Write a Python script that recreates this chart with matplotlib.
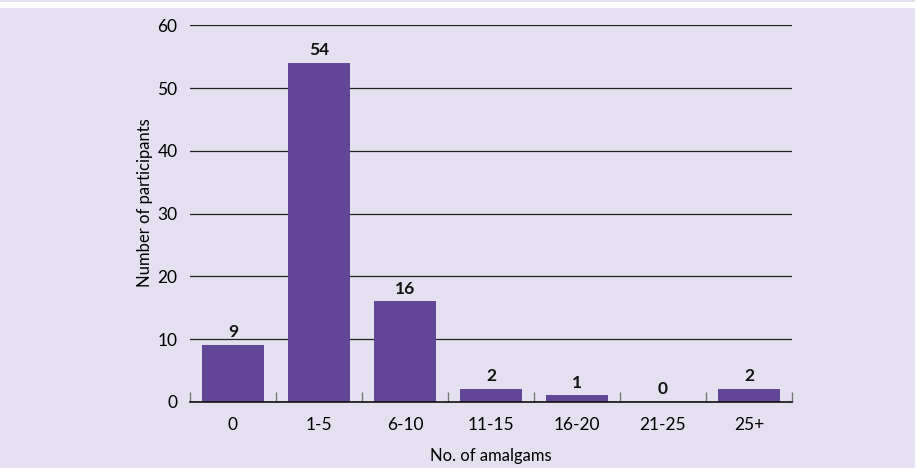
import matplotlib
matplotlib.use('Agg')
import matplotlib.pyplot as plt
from matplotlib.patches import Rectangle
import numpy as np

# Data
categories = ['0', '1-5', '6-10', '11-15', '16-20', '21-25', '25+']
participants = [9, 54, 16, 2, 1, 0, 2]
y_ticks = [0, 10, 20, 30, 40, 50, 60]

plt.rcParams['font.family'] = ['Lato', 'DejaVu Sans']

bg = '#e5e0ef'
bar_color = '#634797'

fig = plt.figure(figsize=(9.2, 4.68), dpi=100)
fig.patch.set_facecolor('white')
# lavender panel with white strip on top and right edge
fig.patches.append(Rectangle((0, 0), 915 / 920, 460 / 468, transform=fig.transFigure,
                             facecolor=bg, edgecolor='none', zorder=-10))
fig.patches.append(Rectangle((0, 466 / 468), 915 / 920, 2 / 468, transform=fig.transFigure,
                             facecolor=bg, edgecolor='none', zorder=-10))

ax = fig.add_axes([190 / 920, 1 - 401.7 / 468, (792 - 190) / 920, (401.7 - 25.5) / 468])
ax.set_facecolor('none')

x = np.arange(len(categories))
ax.bar(x, participants, width=0.72, color=bar_color, zorder=3)

for xi, v in zip(x, participants):
    ax.annotate(str(v), (xi, v), xytext=(0, 3.5), textcoords='offset points',
                ha='center', va='bottom', fontsize=12.5, fontweight='bold', color='#111111')

ax.set_xlim(-0.5, len(categories) - 0.5)
ax.set_ylim(0, 60)
ax.set_yticks(y_ticks)
ax.set_yticklabels([str(t) for t in y_ticks])
ax.yaxis.grid(True, color='#222222', linewidth=0.9, zorder=1)
ax.set_axisbelow(True)

ax.set_xticks(x)
ax.set_xticklabels(categories)
ax.set_xticks(np.arange(-0.5, len(categories)), minor=True)
ax.tick_params(axis='x', which='major', length=0, pad=11, labelsize=12.5)
ax.tick_params(axis='x', which='minor', direction='in', length=7, width=1, color='#777777')
ax.tick_params(axis='y', length=0, pad=9, labelsize=12.5)

for side in ['left', 'right', 'top']:
    ax.spines[side].set_visible(False)
ax.spines['bottom'].set_color('#111111')
ax.spines['bottom'].set_linewidth(1.2)
ax.spines['bottom'].set_zorder(4)

ax.set_ylabel('Number of participants', fontsize=12, labelpad=3, y=0.53)
ax.set_xlabel('No. of amalgams', fontsize=12, labelpad=11)

fig.savefig('out.png', dpi=100, facecolor=fig.get_facecolor())
